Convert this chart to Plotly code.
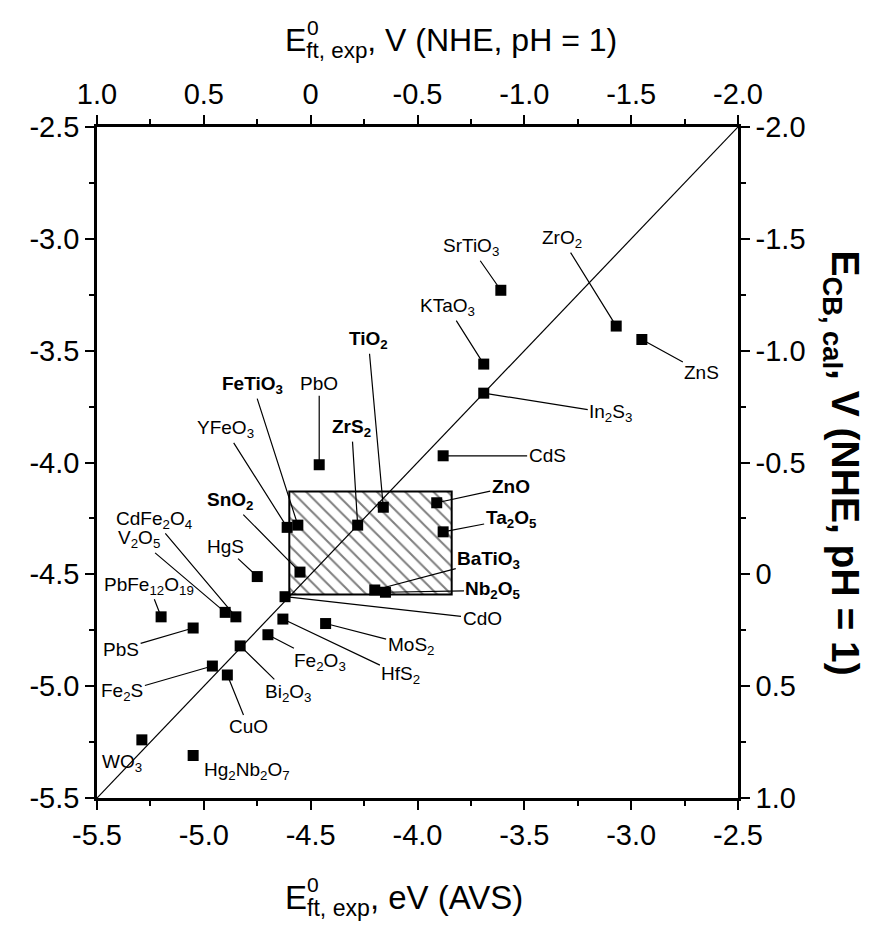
import plotly.graph_objects as go

# ---- data (eV vs AVS) ----
names = ["SrTiO<sub>3</sub>", "ZrO<sub>2</sub>", "ZnS", "KTaO<sub>3</sub>", "In<sub>2</sub>S<sub>3</sub>",
         "CdS", "ZnO", "Ta<sub>2</sub>O<sub>5</sub>", "BaTiO<sub>3</sub>", "Nb<sub>2</sub>O<sub>5</sub>",
         "CdO", "MoS<sub>2</sub>", "HfS<sub>2</sub>", "Fe<sub>2</sub>O<sub>3</sub>", "Bi<sub>2</sub>O<sub>3</sub>",
         "CuO", "Fe<sub>2</sub>S", "PbS", "PbFe<sub>12</sub>O<sub>19</sub>", "V<sub>2</sub>O<sub>5</sub>",
         "CdFe<sub>2</sub>O<sub>4</sub>", "HgS", "SnO<sub>2</sub>", "YFeO<sub>3</sub>", "FeTiO<sub>3</sub>",
         "PbO", "ZrS<sub>2</sub>", "TiO<sub>2</sub>", "WO<sub>3</sub>", "Hg<sub>2</sub>Nb<sub>2</sub>O<sub>7</sub>"]
e_exp = [-3.61, -3.07, -2.95, -3.69, -3.69,
         -3.88, -3.91, -3.88, -4.20, -4.15,
         -4.62, -4.43, -4.63, -4.70, -4.83,
         -4.89, -4.96, -5.05, -5.20, -4.90,
         -4.85, -4.75, -4.55, -4.61, -4.56,
         -4.46, -4.28, -4.16, -5.29, -5.05]
e_cal = [-3.23, -3.39, -3.45, -3.56, -3.69,
         -3.97, -4.18, -4.31, -4.57, -4.58,
         -4.60, -4.72, -4.70, -4.77, -4.82,
         -4.95, -4.91, -4.74, -4.69, -4.67,
         -4.69, -4.51, -4.49, -4.29, -4.28,
         -4.01, -4.28, -4.20, -5.24, -5.31]
bold = {"ZnO", "Ta<sub>2</sub>O<sub>5</sub>", "BaTiO<sub>3</sub>", "Nb<sub>2</sub>O<sub>5</sub>",
        "SnO<sub>2</sub>", "FeTiO<sub>3</sub>", "ZrS<sub>2</sub>", "TiO<sub>2</sub>"}

# hatched region (stability window)
region_x = [-4.60, -3.84, -3.84, -4.60, -4.60]
region_y = [-4.59, -4.59, -4.13, -4.13, -4.59]

diag = [-5.5, -2.5]

ticks_avs = [-5.5, -5.0, -4.5, -4.0, -3.5, -3.0, -2.5]
ticktext_avs = ["-5.5", "-5.0", "-4.5", "-4.0", "-3.5", "-3.0", "-2.5"]
ticks_nhe = [1.0, 0.5, 0.0, -0.5, -1.0, -1.5, -2.0]
ticktext_nhe = ["1.0", "0.5", "0", "-0.5", "-1.0", "-1.5", "-2.0"]

# label placement (pixels, text centre relative to point; True = leader line)
offsets = [(-30, -43, True), (-54, -87, True), (60, 33, True), (-36, -57, True), (127, 20, True),
           (104, 0, True), (74, -16, True), (68, -13, True), (114, -30, True), (108, -2, True),
           (197, 22, True), (85, 22, True), (118, 56, True), (52, 27, True), (48, 47, True),
           (21, 52, True), (-90, 26, True), (-72, 21, True), (-12, -31, True), (-86, -73, True),
           (-82, -97, True), (-32, -30, True), (-70, -71, True), (-62, -98, True), (-45, -140, True),
           (0, -81, True), (-6, -97, True), (-15, -167, True), (-20, 23, False), (54, 15, False)]

FONT = "Liberation Sans, Arial, sans-serif"
LBL = 19

fig = go.Figure()
fig.add_trace(go.Scatter(x=region_x, y=region_y, mode="lines", fill="toself",
                         line=dict(color="black", width=2),
                         fillcolor="white",
                         fillpattern=dict(shape="\\", size=10, solidity=0.2, fgcolor="black", bgcolor="white"),
                         showlegend=False, hoverinfo="skip"))
fig.add_trace(go.Scatter(x=diag, y=diag, mode="lines", line=dict(color="black", width=1.2),
                         showlegend=False))
fig.add_trace(go.Scatter(x=e_exp, y=e_cal, mode="markers",
                         marker=dict(symbol="square", size=11, color="black"),
                         showlegend=False))
# dummy trace to activate secondary axes
fig.add_trace(go.Scatter(x=[None], y=[None], xaxis="x2", yaxis="y2", showlegend=False))

ann = []
for n, xv, yv, (dx, dy, line) in zip(names, e_exp, e_cal, offsets):
    txt = "<b>" + n + "</b>" if n in bold else n
    if line:
        ann.append(dict(x=xv, y=yv, xref="x", yref="y", text=txt, showarrow=True,
                        ax=dx, ay=dy, arrowhead=0, arrowwidth=1.2, arrowcolor="black",
                        font=dict(family=FONT, size=LBL, color="black")))
    else:
        ann.append(dict(x=xv, y=yv, xref="x", yref="y", text=txt, showarrow=False,
                        xshift=dx, yshift=-dy, font=dict(family=FONT, size=LBL, color="black")))

# axis titles (superscript stacked above subscript)
TX = 0.29      # left edge of the "E" of the titles (paper fraction)
TXS = 0.325    # left edge of the stacked superscript
ann.append(dict(xref="paper", yref="paper", x=TX, y=1.0, yshift=62, xanchor="left", yanchor="bottom",
                showarrow=False, text="E<sub>ft, exp</sub>, V (NHE, pH = 1)",
                font=dict(family=FONT, size=32, color="black")))
ann.append(dict(xref="paper", yref="paper", x=TXS, y=1.0, yshift=86, xanchor="left", yanchor="bottom",
                showarrow=False, text="0", font=dict(family=FONT, size=21, color="black")))
ann.append(dict(xref="paper", yref="paper", x=TX, y=0.0, yshift=-125, xanchor="left", yanchor="bottom",
                showarrow=False, text="E<sub>ft, exp</sub>, eV (AVS)",
                font=dict(family=FONT, size=33, color="black")))
ann.append(dict(xref="paper", yref="paper", x=TXS, y=0.0, yshift=-100, xanchor="left", yanchor="bottom",
                showarrow=False, text="0", font=dict(family=FONT, size=21, color="black")))
ann.append(dict(xref="paper", yref="paper", x=1.0, y=0.5, xshift=104, showarrow=False,
                text="<b>E<sub>CB, cal</sub>, V (NHE, pH = 1)</b>", textangle=90,
                font=dict(family=FONT, size=39, color="black"), xanchor="center"))

axis_common = dict(showgrid=False, zeroline=False, showline=True, linecolor="black", linewidth=2.5,
                   ticks="outside", ticklen=9, tickwidth=2, tickcolor="black",
                   minor=dict(ticks="outside", ticklen=5, tickwidth=1.5, tickcolor="black", dtick=0.25),
                   tickfont=dict(family=FONT, size=29, color="black"))

fig.update_layout(
    width=867, height=924,
    margin=dict(l=89, r=137, t=119, b=134),
    paper_bgcolor="white", plot_bgcolor="white",
    xaxis=dict(range=[-5.5, -2.5], tickvals=ticks_avs, ticktext=ticktext_avs, **axis_common),
    yaxis=dict(range=[-5.5, -2.5], tickvals=ticks_avs, ticktext=ticktext_avs, **axis_common),
    xaxis2=dict(range=[1.0, -2.0], overlaying="x", side="top", anchor="y",
                tickvals=ticks_nhe, ticktext=ticktext_nhe, **axis_common),
    yaxis2=dict(range=[1.0, -2.0], overlaying="y", side="right", anchor="x",
                tickvals=ticks_nhe, ticktext=ticktext_nhe, **axis_common),
    annotations=ann,
)
fig.write_html("out.html")
